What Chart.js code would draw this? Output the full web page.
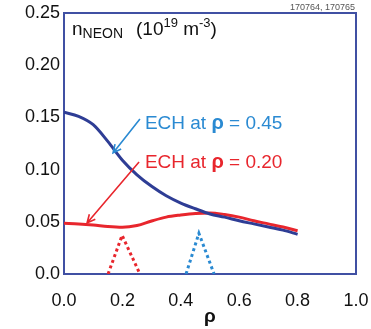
<!DOCTYPE html>
<html>
<head>
<meta charset="utf-8">
<script src="https://cdn.jsdelivr.net/npm/chart.js@4/dist/chart.umd.min.js"></script>
<style>
  html, body { margin: 0; padding: 0; background: #fff; }
  #wrap { width: 371px; height: 329px; }
</style>
</head>
<body>
<div id="wrap"><canvas id="c" width="371" height="329"></canvas></div>
<script>
// Neon density profiles (10^19 m^-3) versus normalised radius rho
const rho = [0.00, 0.05, 0.10, 0.15, 0.20, 0.25, 0.30, 0.35, 0.40, 0.45, 0.50, 0.55, 0.60, 0.65, 0.70, 0.75, 0.80];
const nNeonEch045 = [0.155, 0.151, 0.143, 0.127, 0.109, 0.095, 0.084, 0.075, 0.068, 0.0625, 0.0575, 0.0545, 0.051, 0.048, 0.045, 0.042, 0.038];
const nNeonEch020 = [0.0485, 0.048, 0.047, 0.0455, 0.0448, 0.0465, 0.0508, 0.0545, 0.0565, 0.058, 0.0585, 0.057, 0.0545, 0.051, 0.048, 0.045, 0.0415];

// ECH deposition shapes (arbitrary height)
const depoRho020 = [0.151, 0.199, 0.260];
const depoEch020 = [0, 0.037, 0];
const depoRho045 = [0.418, 0.462, 0.514];
const depoEch045 = [0, 0.039, 0];

// Axis ticks
const xTicks = [0.0, 0.2, 0.4, 0.6, 0.8, 1.0];
const xTickLabels = ['0.0', '0.2', '0.4', '0.6', '0.8', '1.0'];
const yTicks = [0.00, 0.05, 0.10, 0.15, 0.20, 0.25];
const yTickLabels = ['0.0', '0.05', '0.10', '0.15', '0.20', '0.25'];

const FONT = "'Liberation Sans', Arial, sans-serif";
const C_NAVY = '#2e3d95';
const C_RED = '#e8262d';
const C_SKY = '#2a8ad2';
const C_BOX = '#4050a3';

const pts = (xs, ys) => xs.map((x, i) => ({ x: x, y: ys[i] }));

// Labels with arrows, positioned in data units
const notes = [
  { head: 'ECH at ', sym: '\u03c1', tail: ' = 0.45', color: C_SKY, at: [0.277, 0.1442], from: [0.260, 0.1485], to: [0.168, 0.116] },
  { head: 'ECH at ', sym: '\u03c1', tail: ' = 0.20', color: C_RED, at: [0.277, 0.1068], from: [0.257, 0.1073], to: [0.079, 0.0489] }
];

const decor = {
  id: 'decor',
  beforeDatasetsDraw(chart) {
    const { ctx, chartArea: a } = chart;
    ctx.save();
    ctx.strokeStyle = C_BOX;
    ctx.lineWidth = 2;
    ctx.strokeRect(a.left, a.top, a.right - a.left, a.bottom - a.top);
    ctx.restore();
  },
  afterDatasetsDraw(chart) {
    const { ctx, chartArea: a, scales: { x, y } } = chart;
    ctx.save();

    // shot numbers
    ctx.fillStyle = '#555';
    ctx.font = '9px ' + FONT;
    ctx.textAlign = 'right';
    ctx.textBaseline = 'middle';
    ctx.fillText('170764, 170765', a.right - 1, 8);

    // quantity and units
    ctx.fillStyle = '#111';
    ctx.textAlign = 'left';
    ctx.textBaseline = 'alphabetic';
    let cx = a.left + 8;
    const base = a.top + 22;
    const run = (t, size, dy) => {
      ctx.font = size + 'px ' + FONT;
      ctx.fillText(t, cx, base + dy);
      cx += ctx.measureText(t).width;
    };
    run('n', 19, 0);
    run('NEON', 14, 3);
    cx += 13;
    run('(10', 19, 0);
    run('19', 13, -8);
    run(' m', 19, 0);
    run('-3', 13, -8);
    run(')', 19, 0);

    // arrows and labels
    notes.forEach(n => {
      const x0 = x.getPixelForValue(n.from[0]), y0 = y.getPixelForValue(n.from[1]);
      const x1 = x.getPixelForValue(n.to[0]), y1 = y.getPixelForValue(n.to[1]);
      ctx.strokeStyle = n.color;
      ctx.lineWidth = 1.6;
      ctx.beginPath();
      ctx.moveTo(x0, y0);
      ctx.lineTo(x1, y1);
      const ang = Math.atan2(y1 - y0, x1 - x0);
      const L = 9, w = 0.45;
      ctx.moveTo(x1 - L * Math.cos(ang - w), y1 - L * Math.sin(ang - w));
      ctx.lineTo(x1, y1);
      ctx.lineTo(x1 - L * Math.cos(ang + w), y1 - L * Math.sin(ang + w));
      ctx.stroke();

      let tx = x.getPixelForValue(n.at[0]);
      const ty = y.getPixelForValue(n.at[1]);
      ctx.fillStyle = n.color;
      ctx.textBaseline = 'middle';
      ctx.font = '19px ' + FONT;
      ctx.fillText(n.head, tx, ty);
      tx += ctx.measureText(n.head).width;
      ctx.font = 'bold 20px ' + FONT;
      ctx.fillText(n.sym, tx, ty);
      tx += ctx.measureText(n.sym).width;
      ctx.font = '19px ' + FONT;
      ctx.fillText(n.tail, tx, ty);
    });
    ctx.restore();
  }
};

new Chart(document.getElementById('c'), {
  type: 'scatter',
  data: {
    datasets: [
      { data: pts(rho, nNeonEch045), borderColor: C_NAVY, borderWidth: 3, showLine: true, pointRadius: 0, cubicInterpolationMode: 'monotone' },
      { data: pts(rho, nNeonEch020), borderColor: C_RED, borderWidth: 3, showLine: true, pointRadius: 0, cubicInterpolationMode: 'monotone' },
      { data: pts(depoRho020, depoEch020), borderColor: C_RED, borderWidth: 3, borderDash: [3, 3], showLine: true, pointRadius: 0, tension: 0 },
      { data: pts(depoRho045, depoEch045), borderColor: C_SKY, borderWidth: 3, borderDash: [3, 3], showLine: true, pointRadius: 0, tension: 0 }
    ]
  },
  options: {
    responsive: false,
    animation: false,
    devicePixelRatio: 1,
    layout: { padding: { left: 0, right: 15, top: 13, bottom: 0 } },
    plugins: { legend: { display: false }, tooltip: { enabled: false } },
    scales: {
      x: {
        type: 'linear', min: 0, max: 1,
        grid: { display: false, drawTicks: false },
        border: { display: false },
        afterBuildTicks: s => { s.ticks = xTicks.map(v => ({ value: v })); },
        afterFit: s => { s.height = 55; s.paddingLeft = 0; s.paddingRight = 0; },
        ticks: { padding: 16, color: '#111', font: { family: FONT, size: 18 }, maxRotation: 0, callback: (v, i) => xTickLabels[i] },
        title: { display: true, text: '\u03c1', color: '#111', font: { family: FONT, size: 19, weight: 'bold' }, padding: { top: 0, bottom: 1 } }
      },
      y: {
        type: 'linear', min: 0, max: 0.25,
        grid: { display: false, drawTicks: false },
        border: { display: false },
        afterBuildTicks: s => { s.ticks = yTicks.map(v => ({ value: v })); },
        afterFit: s => { s.width = 64; s.paddingTop = 0; s.paddingBottom = 0; },
        ticks: { padding: 4, color: '#111', font: { family: FONT, size: 18 }, callback: (v, i) => yTickLabels[i] }
      }
    }
  },
  plugins: [decor]
});
</script>
</body>
</html>
